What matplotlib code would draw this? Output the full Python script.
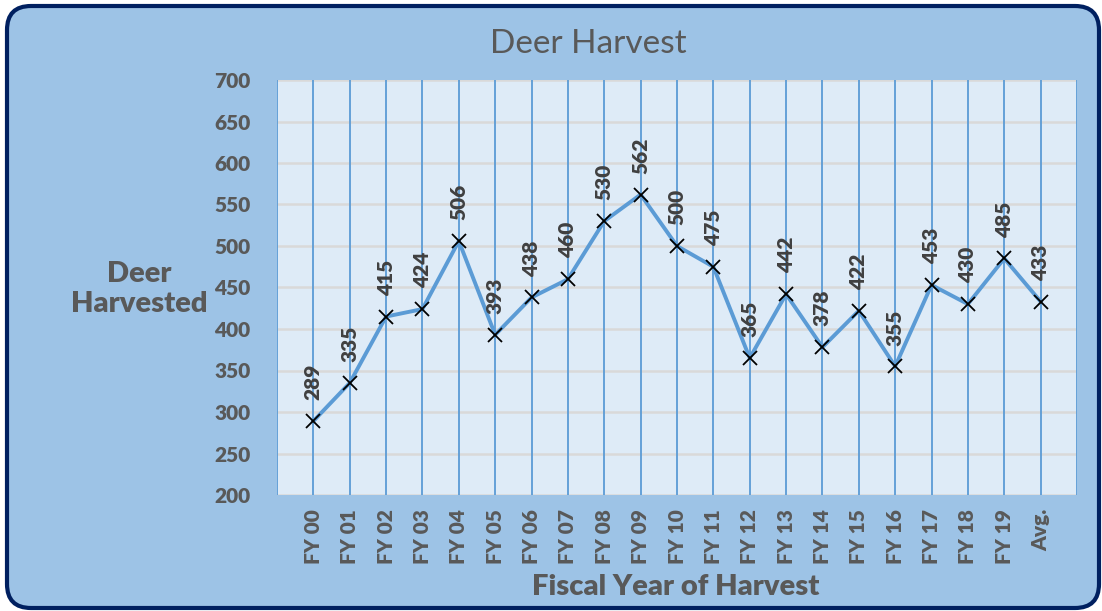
import matplotlib
matplotlib.use("Agg")
import matplotlib.pyplot as plt
from matplotlib.patches import FancyBboxPatch

categories = ["FY 00", "FY 01", "FY 02", "FY 03", "FY 04", "FY 05", "FY 06", "FY 07",
              "FY 08", "FY 09", "FY 10", "FY 11", "FY 12", "FY 13", "FY 14", "FY 15",
              "FY 16", "FY 17", "FY 18", "FY 19", "Avg."]
harvest = [289, 335, 415, 424, 506, 393, 438, 460, 530, 562, 500, 475, 365, 442,
           378, 422, 355, 453, 430, 485, 433]
yticks = [200, 250, 300, 350, 400, 450, 500, 550, 600, 650, 700]

FONT = ["Lato", "DejaVu Sans"]
plt.rcParams["font.family"] = FONT
GRAY = "#595959"
BOLD = "heavy"

W, H = 1102, 611
fig = plt.figure(figsize=(W / 100, H / 100), dpi=100)
fig.patch.set_facecolor("white")

# rounded chart background (pixel coordinates via inches)
box = FancyBboxPatch((7 / 100, 3 / 100), (1092) / 100, (602) / 100,
                     boxstyle="round,pad=0,rounding_size=0.24",
                     transform=fig.dpi_scale_trans, facecolor="#9DC3E6",
                     edgecolor="#002060", linewidth=3.0, zorder=-5)
fig.patches.append(box)

ax = fig.add_axes([277 / W, 1 - 495 / H, 800 / W, 415 / H])
ax.set_zorder(2)
ax.set_facecolor("#DEEBF7")
x = list(range(len(categories)))
ax.set_xlim(-1, len(categories))
ax.set_ylim(200, 700)

# grids
for yv in yticks:
    ax.axhline(yv, color="#D9D9D9", lw=1.8, zorder=1)
for xv in range(-1, len(categories) + 1):
    ax.axvline(xv, color="#5B9BD5", lw=1.3, zorder=1)

ax.plot(x, harvest, color="#5B9BD5", lw=2.8, zorder=3)
ax.plot(x, harvest, linestyle="none", marker="x", color="black",
        markersize=10, markeredgewidth=1.3, zorder=4)

for xi, v in zip(x, harvest):
    ax.annotate(str(v), (xi, v), xytext=(0, 15), textcoords="offset points",
                rotation=90, ha="center", va="bottom", fontsize=15,
                fontweight=BOLD, color="#404040", zorder=5)

for s in ax.spines.values():
    s.set_visible(False)

ax.set_yticks(yticks)
ax.set_xticks(x)
ax.set_xticklabels(categories, rotation=90)
ax.tick_params(axis="both", length=0, labelsize=15, labelcolor=GRAY)
for lab in ax.get_xticklabels() + ax.get_yticklabels():
    lab.set_fontweight(BOLD)
ax.tick_params(axis="y", pad=19)
ax.tick_params(axis="x", pad=10)

fig.text(588 / W, 1 - 44 / H, "Deer Harvest", ha="center", va="center",
         fontsize=24, color=GRAY)
fig.text(139 / W, 1 - 289 / H, "Deer\nHarvested", ha="center", va="center",
         fontsize=21, fontweight=BOLD, color=GRAY, linespacing=1.2)
fig.text(676 / W, 1 - 587 / H, "Fiscal Year of Harvest", ha="center", va="center",
         fontsize=21, fontweight=BOLD, color=GRAY)

fig.savefig("out.png", dpi=100)
